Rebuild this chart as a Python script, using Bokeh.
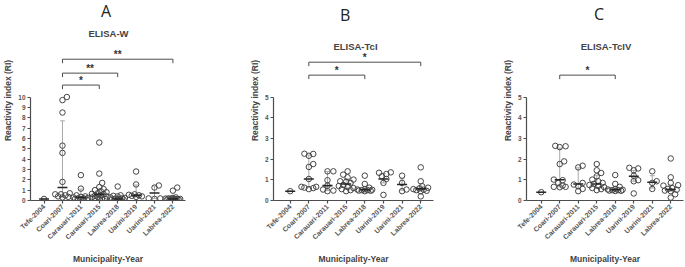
import math
from bokeh.plotting import figure
from bokeh.layouts import row
from bokeh.models import FixedTicker, Label, Range1d
from bokeh.embed import file_html
from bokeh.resources import INLINE
from bokeh.core.properties import value

# ---------------- data ----------------
categories = ["Tefe-2004", "Coari-2007", "Carauari-2011", "Carauari-2015",
              "Labrea-2018", "Uarini-2019", "Uarini-2021", "Labrea-2022"]

panel_letters = ["A", "B", "C"]
panel_titles = ["ELISA-W", "ELISA-TcI", "ELISA-TcIV"]
y_max = [10, 5, 5]
y_label = "Reactivity index (RI)"
x_label = "Municipality-Year"

w_values = [
    [0.15],
    [10.0, 9.7, 8.5, 5.3, 4.6, 1.8, 0.7, 0.6, 0.6, 0.5, 0.4, 0.35, 0.3],
    [2.45, 1.15, 0.5, 0.4, 0.35, 0.3, 0.25, 0.2, 0.2, 0.15, 0.1, 0.1],
    [5.6, 2.6, 1.7, 1.3, 1.1, 1.0, 0.9, 0.8, 0.7, 0.65, 0.6, 0.5, 0.45, 0.4, 0.35, 0.3, 0.25, 0.2, 0.15, 0.1],
    [1.35, 0.5, 0.45, 0.4, 0.3, 0.25, 0.2, 0.15, 0.15, 0.1, 0.1, 0.1, 0.1],
    [2.8, 1.55, 0.6, 0.55, 0.5, 0.45, 0.4, 0.35],
    [1.45, 1.25, 0.2, 0.2, 0.15],
    [1.25, 0.95, 0.3, 0.25, 0.2, 0.2, 0.18, 0.15, 0.15, 0.12, 0.12, 0.1, 0.1, 0.1, 0.1],
]
w_center = [0.15, 1.25, 0.3, 0.6, 0.15, 0.5, 0.72, 0.15]
w_low = [0.15, 0.35, 0.15, 0.3, 0.1, 0.4, 0.2, 0.1]
w_high = [0.15, 7.7, 1.1, 1.1, 0.45, 1.5, 1.4, 0.25]
w_comparisons = [("Coari-2007", "Carauari-2015", "*"),
                 ("Coari-2007", "Labrea-2018", "**"),
                 ("Coari-2007", "Labrea-2022", "**")]

tci_values = [
    [0.45],
    [2.26, 2.25, 2.16, 1.76, 1.62, 1.04, 0.66, 0.66, 0.62, 0.6, 0.55],
    [1.41, 1.41, 0.98, 0.72, 0.53, 0.48, 0.45],
    [1.41, 1.25, 1.12, 1.01, 0.93, 0.9, 0.85, 0.75, 0.7, 0.65, 0.6, 0.55, 0.5, 0.45],
    [1.2, 0.8, 0.62, 0.55, 0.53, 0.52, 0.5, 0.5, 0.48, 0.47, 0.45],
    [1.36, 1.34, 1.28, 1.17, 1.04, 0.85, 0.27],
    [1.2, 0.85, 0.53, 0.45],
    [1.6, 0.93, 0.69, 0.62, 0.58, 0.55, 0.52, 0.5, 0.47, 0.45, 0.2],
]
tci_center = [0.45, 1.04, 0.72, 0.8, 0.52, 1.04, 0.77, 0.56]
tci_low = [0.45, 0.62, 0.48, 0.6, 0.5, 0.85, 0.5, 0.48]
tci_high = [0.45, 2.2, 1.4, 1.05, 0.6, 1.3, 1.05, 0.7]
tci_comparisons = [("Coari-2007", "Labrea-2018", "*"),
                   ("Coari-2007", "Labrea-2022", "*")]

tciv_values = [
    [0.4],
    [2.64, 2.62, 2.58, 1.89, 1.76, 1.01, 0.98, 0.85, 0.72, 0.66, 0.66, 0.64],
    [1.68, 1.6, 0.85, 0.77, 0.69, 0.56, 0.45],
    [1.76, 1.46, 1.33, 1.17, 1.01, 0.93, 0.85, 0.8, 0.75, 0.7, 0.65, 0.6, 0.55, 0.5],
    [1.23, 0.8, 0.66, 0.56, 0.53, 0.52, 0.5, 0.5, 0.48, 0.47, 0.46],
    [1.58, 1.55, 1.46, 1.2, 0.98, 0.93, 0.34],
    [1.41, 0.93, 0.85, 0.56],
    [2.03, 1.12, 0.85, 0.74, 0.72, 0.6, 0.56, 0.52, 0.48, 0.45, 0.3, 0.14],
]
tciv_center = [0.4, 1.0, 0.8, 0.8, 0.52, 1.17, 0.88, 0.53]
tciv_low = [0.4, 0.66, 0.6, 0.62, 0.5, 0.93, 0.6, 0.45]
tciv_high = [0.4, 2.53, 1.58, 1.2, 0.6, 1.46, 1.2, 0.75]
tciv_comparisons = [("Coari-2007", "Labrea-2018", "*")]

# ---------------- layout constants (pixels, page coordinates) ----------------
FIG_H = 267
BORDER_BOTTOM = 66
ZERO_PX = 201                            # page y of value 0
AXIS_TOP_PX = 97                         # page y of the top tick
TOP_PX = 0

panels = [
    dict(values=w_values, center=w_center, low=w_low, high=w_high, comps=w_comparisons,
         width=246, bl=25, fw=160, first_off=14, spacing=19.0, first_page=39,
         letter_x=103, letter_y=11, title_y=33, brackets=[85, 73, 59]),
    dict(values=tci_values, center=tci_center, low=tci_low, high=tci_high, comps=tci_comparisons,
         width=253, bl=24, fw=163, first_off=17, spacing=19.0, first_page=287,
         letter_x=343, letter_y=15, title_y=46, brackets=[75, 62]),
    dict(values=tciv_values, center=tciv_center, low=tciv_low, high=tciv_high, comps=tciv_comparisons,
         width=186, bl=24, fw=160, first_off=15, spacing=18.86, first_page=538,
         letter_x=597, letter_y=14, title_y=46, brackets=[75]),
]

TEXT = "#444444"
DARK = "#4d4d4d"
FONT = "Liberation Sans"


def swarm_offsets(vals, x_ppu, y_ppu, min_dist=4.6, step=1.5, max_px=8.0):
    n = len(vals)
    cands = [0.0]
    k = 1
    while k * step <= max_px:
        cands += [k * step, -k * step]
        k += 1
    order = sorted(range(n), key=lambda i: vals[i])
    placed = []
    offs = [0.0] * n
    for i in order:
        yp = vals[i] * y_ppu
        chosen = None
        best_c, best_d = 0.0, -1.0
        for c in cands:
            d = min([math.hypot(c - px, yp - py) for px, py in placed] or [1e9])
            if d >= min_dist:
                chosen = c
                break
            if d > best_d:
                best_d, best_c = d, c
        if chosen is None:
            chosen = best_c
        placed.append((chosen, yp))
        offs[i] = chosen / x_ppu
    return offs


figs = []
for pan, letter, title, ymax in zip(panels, panel_letters, panel_titles, y_max):
    y_ppu = (ZERO_PX - AXIS_TOP_PX) / ymax
    x_ppu = pan["spacing"]
    y_top = (ZERO_PX - TOP_PX) / y_ppu
    x_start = 1 - pan["first_off"] / x_ppu
    x_end = x_start + pan["fw"] / x_ppu

    def yd(page_y):
        return (ZERO_PX - page_y) / y_ppu

    def xd(page_x):
        return 1 + (page_x - pan["first_page"]) / x_ppu

    p = figure(width=pan["width"], height=FIG_H, output_backend="svg", toolbar_location=None,
               x_range=Range1d(x_start, x_end), y_range=Range1d(0, y_top),
               min_border_left=pan["bl"], min_border_right=pan["width"] - pan["bl"] - pan["fw"],
               min_border_top=0, min_border_bottom=BORDER_BOTTOM)
    p.outline_line_color = None
    p.grid.visible = False
    p.background_fill_color = "white"
    p.border_fill_color = "white"

    # axes
    p.yaxis.bounds = (0, ymax)
    p.yaxis.ticker = FixedTicker(ticks=list(range(ymax + 1)))
    p.yaxis.axis_label = y_label
    p.xaxis.ticker = FixedTicker(ticks=list(range(1, len(categories) + 1)))
    p.xaxis.major_label_overrides = {i + 1: c for i, c in enumerate(categories)}
    p.xaxis.major_label_orientation = math.pi / 4
    p.xaxis.axis_label = x_label
    for ax in (p.xaxis, p.yaxis):
        ax.axis_line_color = DARK
        ax.axis_line_width = 1.2
        ax.major_tick_line_color = DARK
        ax.major_tick_line_width = 1.2
        ax.major_tick_out = 3
        ax.major_tick_in = 0
        ax.minor_tick_line_color = None
        ax.major_label_text_font = FONT
        ax.major_label_text_font_size = "7px"
        ax.major_label_text_font_style = "bold"
        ax.major_label_text_color = "#555555"
        ax.major_label_standoff = 2
        ax.axis_label_text_font = FONT
        ax.axis_label_text_font_size = "8.5px"
        ax.axis_label_text_font_style = "bold"
        ax.axis_label_text_color = TEXT
    p.yaxis.major_label_text_font_size = "6.5px"
    p.yaxis.axis_label_standoff = 2
    p.xaxis.axis_label_standoff = 8

    # whiskers and caps
    idx = list(range(1, len(categories) + 1))
    cap = 0.13
    p.segment(x0=idx, x1=idx, y0=pan["low"], y1=pan["high"], line_color="#a8a8a8", line_width=1)
    p.segment(x0=[i - cap for i in idx], x1=[i + cap for i in idx], y0=pan["high"], y1=pan["high"],
              line_color="#a8a8a8", line_width=1)
    p.segment(x0=[i - cap for i in idx], x1=[i + cap for i in idx], y0=pan["low"], y1=pan["low"],
              line_color="#a8a8a8", line_width=1)

    # points
    xs, ys = [], []
    for i, vals in enumerate(pan["values"]):
        offs = swarm_offsets(vals, x_ppu, y_ppu)
        xs += [i + 1 + o for o in offs]
        ys += list(vals)
    p.scatter(x=xs, y=ys, size=5.5, marker="circle", fill_alpha=0,
              line_color="#454545", line_width=1.0)

    # center lines
    half = 0.27
    p.segment(x0=[i - half for i in idx], x1=[i + half for i in idx], y0=pan["center"], y1=pan["center"],
              line_color="#262626", line_width=1.6)

    # significance brackets
    drop = 4 / y_ppu
    bxs, bys, sx, sy, st = [], [], [], [], []
    for (a, b, lab), ly in zip(pan["comps"], pan["brackets"]):
        xa = categories.index(a) + 1
        xb = categories.index(b) + 1
        yl = yd(ly)
        bxs.append([xa, xa, xb, xb])
        bys.append([yl - drop, yl, yl, yl - drop])
        sx.append((xa + xb) / 2)
        sy.append(yd(ly - 5))
        st.append(lab)
    p.multi_line(xs=bxs, ys=bys, line_color=DARK, line_width=1)
    p.text(x=sx, y=sy, text=st, text_align="center", text_baseline="middle",
           text_font=value(FONT), text_font_size="10px", text_font_style="bold", text_color="#333333")

    # panel letter and title
    p.add_layout(Label(x=xd(pan["letter_x"]), y=yd(pan["letter_y"]), text=letter,
                       text_align="center", text_baseline="middle", text_font="Open Sans",
                       text_font_size="16px", text_color="#222222"))
    p.add_layout(Label(x=4.5, y=yd(pan["title_y"]), text=title,
                       text_align="center", text_baseline="middle", text_font=FONT,
                       text_font_size="9.5px", text_font_style="bold", text_color=TEXT))
    figs.append(p)

layout = row(*figs, spacing=0)
open("out.html", "w").write(file_html(layout, INLINE))
